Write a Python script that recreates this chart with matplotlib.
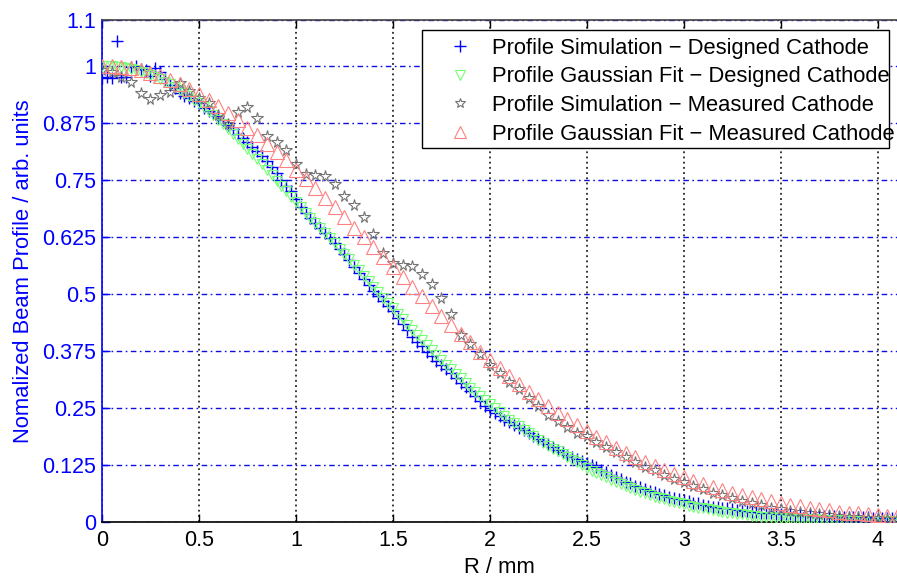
import numpy as np
import matplotlib
matplotlib.use("Agg")
import matplotlib.pyplot as plt
from matplotlib.patches import Rectangle

plt.rcParams['font.family'] = ['Liberation Sans', 'DejaVu Sans']

# ---------------- data ----------------
step_designed = 0.025   # mm between samples, designed cathode series
step_measured = 0.05    # mm between samples, measured cathode series

sim_designed = [
    0.973, 0.975, 0.972, 1.054, 0.974, 0.976, 0.998, 1.000, 0.992, 0.990,
    0.978, 0.994, 0.987, 0.970, 0.958, 0.950, 0.940, 0.933, 0.930, 0.922,
    0.918, 0.908, 0.900, 0.896, 0.890, 0.881, 0.870, 0.860, 0.850, 0.841,
    0.832, 0.822, 0.812, 0.802, 0.790, 0.778, 0.764, 0.750, 0.737, 0.724,
    0.707, 0.690, 0.677, 0.665, 0.654, 0.643, 0.632, 0.622, 0.610, 0.599,
    0.587, 0.573, 0.559, 0.546, 0.532, 0.519, 0.506, 0.495, 0.484, 0.474,
    0.461, 0.447, 0.433, 0.420, 0.405, 0.395, 0.385, 0.372, 0.364, 0.353,
    0.343, 0.334, 0.325, 0.316, 0.305, 0.295, 0.286, 0.276, 0.264, 0.254,
    0.246, 0.238, 0.231, 0.224, 0.218, 0.211, 0.206, 0.200, 0.194, 0.188,
    0.182, 0.176, 0.170, 0.164, 0.158, 0.152, 0.147, 0.142, 0.137, 0.133,
    0.129, 0.125, 0.119, 0.113, 0.108, 0.103, 0.098, 0.093, 0.088, 0.084,
    0.079, 0.075, 0.071, 0.068, 0.065, 0.061, 0.058, 0.055, 0.052, 0.049,
    0.047, 0.045, 0.042, 0.040, 0.037, 0.035, 0.033, 0.032, 0.030, 0.029,
    0.027, 0.026, 0.024, 0.023, 0.022, 0.021, 0.020, 0.019, 0.018, 0.017,
    0.017, 0.016, 0.016, 0.015, 0.015, 0.014, 0.014, 0.013, 0.013, 0.012,
    0.012, 0.012, 0.011, 0.011, 0.011, 0.010, 0.010, 0.010, 0.010, 0.009,
    0.009, 0.009, 0.009, 0.008, 0.008,
]

fit_designed = [
    1.000, 1.000, 0.999, 0.998, 0.997, 0.995, 0.992, 0.990, 0.987, 0.983,
    0.979, 0.975, 0.970, 0.965, 0.959, 0.953, 0.947, 0.940, 0.933, 0.925,
    0.917, 0.909, 0.900, 0.891, 0.881, 0.871, 0.861, 0.851, 0.840, 0.829,
    0.818, 0.807, 0.796, 0.784, 0.772, 0.760, 0.748, 0.736, 0.724, 0.712,
    0.700, 0.689, 0.677, 0.666, 0.655, 0.644, 0.632, 0.621, 0.610, 0.598,
    0.587, 0.575, 0.563, 0.551, 0.539, 0.527, 0.515, 0.503, 0.491, 0.479,
    0.468, 0.456, 0.444, 0.432, 0.421, 0.409, 0.398, 0.387, 0.376, 0.365,
    0.355, 0.344, 0.334, 0.324, 0.314, 0.304, 0.294, 0.285, 0.276, 0.267,
    0.258, 0.249, 0.241, 0.232, 0.224, 0.216, 0.209, 0.201, 0.194, 0.187,
    0.180, 0.173, 0.166, 0.160, 0.154, 0.148, 0.142, 0.136, 0.130, 0.124,
    0.118, 0.112, 0.107, 0.102, 0.097, 0.092, 0.087, 0.083, 0.078, 0.074,
    0.070, 0.066, 0.062, 0.058, 0.055, 0.052, 0.049, 0.046, 0.043, 0.040,
    0.038, 0.035, 0.033, 0.031, 0.029, 0.027, 0.025, 0.023, 0.021, 0.020,
    0.018, 0.017, 0.016, 0.015, 0.013, 0.012, 0.011, 0.011, 0.010, 0.009,
    0.008, 0.008, 0.007, 0.007, 0.006, 0.006, 0.005, 0.005, 0.004, 0.004,
    0.004, 0.003, 0.003, 0.003, 0.003, 0.002, 0.002, 0.002, 0.002, 0.002,
    0.002, 0.001, 0.001, 0.001, 0.001,
]

sim_measured = [
    0.990, 0.985, 0.975, 0.965, 0.940, 0.926, 0.936, 0.943, 0.962, 0.945,
    0.930, 0.918, 0.892, 0.872, 0.898, 0.910, 0.885, 0.845, 0.832, 0.815,
    0.785, 0.762, 0.760, 0.757, 0.740, 0.715, 0.695, 0.668, 0.630, 0.590,
    0.568, 0.562, 0.560, 0.543, 0.522, 0.490, 0.455, 0.410, 0.390, 0.367,
    0.343, 0.325, 0.307, 0.290, 0.272, 0.253, 0.235, 0.220, 0.207, 0.194,
    0.187, 0.174, 0.163, 0.152, 0.142, 0.131, 0.121, 0.113, 0.103, 0.093,
    0.086, 0.078, 0.071, 0.064, 0.058, 0.052, 0.046, 0.041, 0.036, 0.031,
    0.027, 0.024, 0.021, 0.018, 0.016, 0.014, 0.012, 0.011, 0.010, 0.009,
    0.008, 0.007, 0.006,
]

fit_measured = [
    1.000, 0.999, 0.997, 0.994, 0.990, 0.984, 0.977, 0.969, 0.959, 0.949,
    0.937, 0.925, 0.911, 0.896, 0.881, 0.864, 0.847, 0.829, 0.811, 0.792,
    0.772, 0.752, 0.731, 0.710, 0.689, 0.667, 0.645, 0.624, 0.602, 0.580,
    0.558, 0.537, 0.515, 0.494, 0.473, 0.452, 0.432, 0.412, 0.393, 0.373,
    0.355, 0.337, 0.319, 0.302, 0.285, 0.269, 0.254, 0.239, 0.225, 0.211,
    0.198, 0.186, 0.174, 0.162, 0.151, 0.141, 0.131, 0.122, 0.113, 0.105,
    0.097, 0.090, 0.083, 0.076, 0.070, 0.064, 0.059, 0.054, 0.049, 0.045,
    0.041, 0.037, 0.034, 0.031, 0.028, 0.025, 0.022, 0.020, 0.018, 0.016,
    0.014, 0.013, 0.012,
]

series_labels = [
    "Profile Simulation \u2212 Designed Cathode",
    "Profile Gaussian Fit \u2212 Designed Cathode",
    "Profile Simulation \u2212 Measured Cathode",
    "Profile Gaussian Fit \u2212 Measured Cathode",
]

x_ticks = [0, 0.5, 1, 1.5, 2, 2.5, 3, 3.5, 4]
x_tick_labels = ["0", "0.5", "1", "1.5", "2", "2.5", "3", "3.5", "4"]
y_ticks = [0, 0.125, 0.25, 0.375, 0.5, 0.625, 0.75, 0.875, 1, 1.1]
y_tick_labels = ["0", "0.125", "0.25", "0.375", "0.5", "0.625", "0.75",
                 "0.875", "1", "1.1"]
x_label = "R / mm"
y_label = "Nomalized Beam Profile / arb. units"

# ---------------- figure ----------------
r_sd = np.arange(len(sim_designed)) * step_designed
r_fd = np.arange(len(fit_designed)) * step_designed
r_sm = np.arange(len(sim_measured)) * step_measured
r_fm = np.arange(len(fit_measured)) * step_measured

W, H = 897, 578
fig = plt.figure(figsize=(W / 100, H / 100), dpi=100)
ax_left, ax_right, ax_top, ax_bottom = 102, 897, 20, 521.7
ax = fig.add_axes([ax_left / W, (H - ax_bottom) / H,
                   (ax_right - ax_left) / W, (ax_bottom - ax_top) / H])

blue = (0.0, 0.0, 1.0)
green = (0.45, 1.0, 0.45)
gray = (0.45, 0.45, 0.45)
red = (1.0, 0.5, 0.5)

ax.plot(r_sd, sim_designed, ls='none', marker='+', color=blue, ms=8, mew=1.0,
        label=series_labels[0], zorder=3)
ax.plot(r_fd, fit_designed, ls='none', marker='v', mfc='none', mec=green,
        ms=7, mew=0.8, label=series_labels[1], zorder=3)
ax.plot(r_sm, sim_measured, ls='none', marker='*', mfc='none', mec=gray,
        ms=8.5, mew=0.8, label=series_labels[2], zorder=3)
ax.plot(r_fm, fit_measured, ls='none', marker='^', mfc='none', mec=red,
        ms=10, mew=0.8, label=series_labels[3], zorder=3)

ax.set_xlim(0, 4.1)
ax.set_ylim(0, 1.1)
ax.set_xticks(x_ticks)
ax.set_xticklabels(x_tick_labels)
ax.set_yticks(y_ticks)
ax.set_yticklabels(y_tick_labels)

ax.set_axisbelow(True)
ax.xaxis.grid(True, color='black', linestyle=(0, (1.2, 2.2)), linewidth=1.1)
ax.yaxis.grid(True, color=(0.05, 0.05, 0.9), linestyle=(0, (4, 2.5, 1.2, 2.5)),
              linewidth=1.0)

ax.tick_params(axis='x', direction='in', length=6, width=1.0, colors='black',
               top=True, bottom=True, labelsize=15.5, pad=6)
ax.tick_params(axis='y', direction='in', length=6, width=1.0, colors=blue,
               left=True, right=False, labelsize=15.5, pad=4)

ax.spines['left'].set_color(blue)
ax.spines['bottom'].set_color('black')
ax.spines['top'].set_color((0.25, 0.25, 0.25))
ax.spines['right'].set_visible(False)
for s in ('left', 'bottom', 'top'):
    ax.spines[s].set_linewidth(1.2)

ax.set_xlabel(x_label, fontsize=15.8, color='black', labelpad=4)
ax.set_ylabel(y_label, fontsize=15.8, color=blue)
ax.yaxis.set_label_coords((34 - ax_left) / (ax_right - ax_left), 0.5)

# legend box (text slightly overflows the frame, as in the original)
box_l, box_t, box_r, box_b = 422, 30, 889, 148
ax.add_patch(Rectangle((box_l / W, 1 - box_b / H), (box_r - box_l) / W,
                       (box_b - box_t) / H, transform=fig.transFigure,
                       facecolor='white', edgecolor='black', linewidth=1.0,
                       zorder=4.9, clip_on=False))

leg = ax.legend(loc='upper left', bbox_to_anchor=(box_l / W, 1 - box_t / H),
                bbox_transform=fig.transFigure, fontsize=15.8, frameon=False,
                borderpad=0.35, labelspacing=0.35, handlelength=2.8,
                handletextpad=0.05, borderaxespad=0, numpoints=1)
for h, ms in zip(leg.legend_handles, [9, 7, 7, 8]):
    h.set_markersize(ms)

fig.savefig("out.png", dpi=100)
